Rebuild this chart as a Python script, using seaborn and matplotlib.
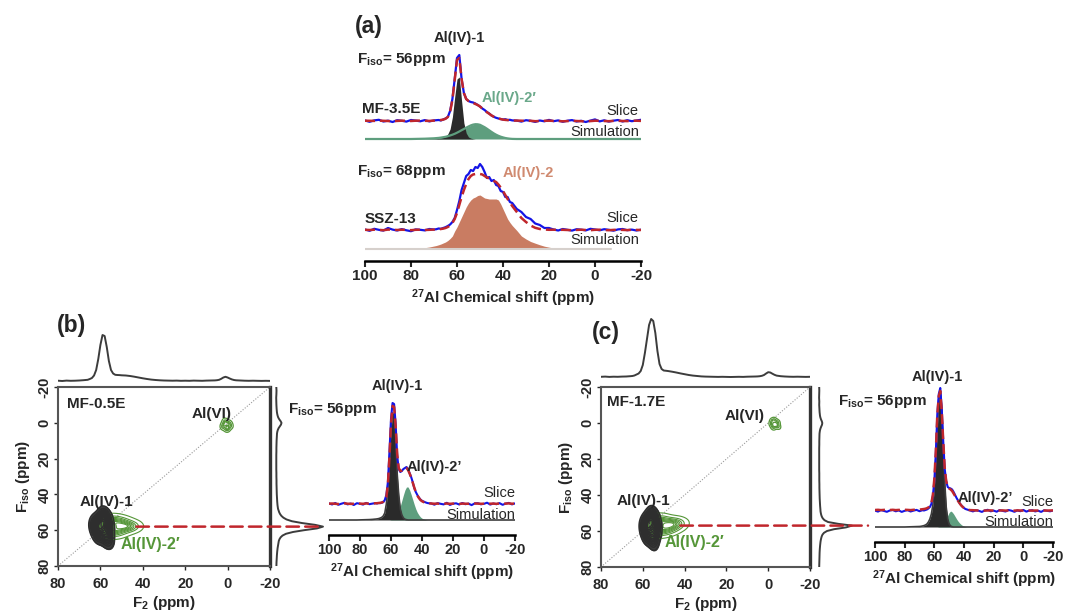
import numpy as np
import matplotlib
matplotlib.use("Agg")
import matplotlib.pyplot as plt
import seaborn as sns
from matplotlib.patches import ConnectionPatch
from matplotlib.colors import ListedColormap

# ------------------------------------------------------------------ data
# chemical-shift grid used by every 1D slice / simulation (ppm)
ppm_slice = [100, 98, 96, 94, 92, 90, 88, 86, 84, 82, 80, 78, 76, 74, 72, 70,
             69, 68, 67, 66, 65, 64, 63, 62, 61, 60, 59, 58, 57, 56, 55, 54, 53, 52, 51, 50,
             49, 48, 47, 46, 45, 44, 43, 42, 41, 40, 39, 38, 37, 36,
             34, 32, 30, 28, 26, 24, 22, 20, 18, 16, 14, 12, 10, 8, 6, 4, 2, 0,
             -2, -4, -6, -8, -10, -12, -14, -16, -18, -20]

# (a) MF-3.5E, F_iso = 56 ppm
mf35_slice = [0.5, -0.8, 0.6, 1.2, -0.5, 0.3, -1.0, 0.8, 0.2, -0.6, 1.0, 0.4, -0.3, 0.9, -0.4, 0.6,
              0.8, 1.0, 0.5, 1.5, 2.5, 4, 10, 22, 42, 63, 66, 42, 28, 22, 20, 19, 18.5, 17.5, 16, 14.5,
              12.5, 11, 9, 7.5, 5.5, 4.2, 3.2, 2.5, 2.0, 1.5, 1.8, 1.0, 1.2, 0.6,
              0.4, -0.6, 0.8, 0.2, -0.9, 0.5, -0.3, 1.1, -0.2, 0.6, -0.8, 0.3, 0.9, -0.5, 0.2, -1.0, 0.4, 1.6,
              -0.4, 0.7, -0.6, 0.3, 1.0, -0.5, 0.8, -0.2, 0.5, 1.2]
mf35_fit = [0.3, 0.2, 0.1, 0.4, 0.2, 0.0, -0.2, 0.1, 0.3, 0.2, 0.0, 0.3, 0.4, 0.2, 0.1, 0.4,
            0.6, 0.8, 1.0, 1.4, 2.2, 4, 9, 21, 41, 61, 63, 42, 28, 22, 20, 19, 18, 17, 16, 14.5,
            12.5, 10.5, 8.8, 7.2, 5.6, 4.3, 3.3, 2.5, 1.9, 1.4, 1.1, 0.9, 0.7, 0.5,
            0.4, 0.3, 0.1, 0.2, -0.2, 0.0, 0.2, 0.3, 0.1, 0.0, -0.3, -0.1, 0.2, 0.0, -0.2, -0.4, -0.1, 0.3,
            0.2, 0.0, -0.2, 0.1, 0.2, 0.0, -0.1, 0.2, 0.3, 0.1]
mf35_sim_iv1 = [0, 0, 0, 0, 0, 0, 0, 0, 0, 0, 0, 0, 0.1, 0.1, 0.2, 0.3,
                0.4, 0.6, 0.9, 1.4, 2.5, 5, 10, 22, 42, 60, 62, 38, 16, 6, 2, 0.8, 0.3, 0, 0, 0,
                0, 0, 0, 0, 0, 0, 0, 0, 0, 0, 0, 0, 0, 0,
                0, 0, 0, 0, 0, 0, 0, 0, 0, 0, 0, 0, 0, 0, 0, 0, 0, 0,
                0, 0, 0, 0, 0, 0, 0, 0, 0, 0]
mf35_sim_iv2 = [0, 0, 0, 0, 0, 0, 0, 0, 0, 0, 0, 0.1, 0.2, 0.3, 0.5, 0.7,
                0.9, 1.1, 1.4, 1.8, 2.2, 2.8, 3.5, 4.3, 5.2, 6.3, 7.5, 8.8, 10, 11.3, 12.5, 13.6, 14.4, 14.8, 14.7, 14.2,
                13, 11.8, 10.3, 8.7, 7.1, 5.6, 4.3, 3.2, 2.3, 1.6, 1.0, 0.6, 0.3, 0.1,
                0, 0, 0, 0, 0, 0, 0, 0, 0, 0, 0, 0, 0, 0, 0, 0, 0, 0,
                0, 0, 0, 0, 0, 0, 0, 0, 0, 0]

# (a) SSZ-13, F_iso = 68 ppm
ssz_slice = [0.5, -0.8, 1.2, 0.2, -0.6, 2.0, 0.4, -0.5, 0.9, -0.3, -1.2, 0.6, 0.2, -0.4, 1.0, 0.5,
             0.8, 1.5, 1.2, 2.0, 2.8, 4, 5.5, 8, 12, 20, 29, 40, 47, 54, 56, 60, 59, 63, 62, 66,
             63, 58, 52, 53, 49, 50, 45, 44, 39, 38, 33, 33, 28, 27,
             21, 18, 13, 11, 6.5, 5, 2, 2, 0.5, -0.5, 1.0, 0.2, -0.6, 0.8, 0.3, -0.4, 1.2, 0.5,
             -0.3, 0.8, 0.2, -0.7, 0.6, 1.0, -0.2, 0.4, -0.5, 0.3]
ssz_fit = [0.2, 0.0, 0.3, 0.1, -0.2, 0.4, 0.2, 0.0, 0.3, 0.1, -0.2, 0.2, 0.3, 0.0, 0.2, 0.4,
           0.5, 0.7, 1.0, 1.4, 2.0, 3.0, 4.5, 7, 11, 17, 25, 33, 40, 46, 51, 54, 55.5, 56, 56, 56,
           55.5, 54, 52.5, 51.5, 50.5, 49, 48, 45.5, 42.5, 39, 35, 31, 27.5, 24,
           18, 12, 8, 4.5, 2.2, 1.0, 0.5, 0.2, 0.3, 0.1, 0.2, 0.0, -0.2, 0.1, 0.3, 0.0, -0.2, 0.2,
           0.3, 0.0, -0.2, 0.1, 0.3, 0.1, -0.1, 0.2, 0.1, 0.0]
ssz_sim_iv2 = [0, 0, 0, 0, 0, 0, 0, 0, 0, 0, 0, 0.3, 0.8, 1.3, 2.0, 3.0,
               3.5, 4.2, 5, 6, 7, 8.5, 10.5, 13, 18, 22, 27, 32, 37, 42, 46, 49, 51, 52, 53.5, 54,
               52.5, 51, 50.5, 50, 50, 50, 50, 49, 45, 40, 35, 30, 26.5, 23.5,
               18.5, 13, 10, 7.5, 5.8, 4.2, 2.8, 1.8, 1.0, 0.3, 0, 0, 0, 0, 0, 0, 0, 0,
               0, 0, 0, 0, 0, 0, 0, 0, 0, 0]
ssz_sim_span = [100, -7]

# (b) MF-0.5E slice at F_iso = 56 ppm
b_slice = [0.6, -0.5, 1.0, -0.8, 0.3, 1.2, -0.4, 0.5, -1.0, 0.8, 0.2, -0.6, 1.1, -0.2, 0.4, 0.9,
           0.5, 1.0, 0.8, 1.2, 1.8, 4, 9, 22, 52, 85, 101, 100, 80, 48, 35, 32, 33, 35, 36, 37,
           35, 31, 27, 22, 16, 12, 9, 6.5, 4.5, 3.2, 2.5, 1.8, 1.2, 0.8,
           0.5, -0.7, 0.9, 0.2, -0.4, 1.2, -0.9, 0.3, 0.7, -0.5, 1.0, -0.2, 0.4, -1.1, 0.6, 0.8, -0.3, 0.2,
           1.3, -0.6, 0.5, -0.2, 0.9, -0.8, 0.4, 1.1, -0.4, 0.6]
b_fit = [0.3, 0.5, 0.2, 0.0, 0.4, 0.6, 0.3, 0.1, 0.3, 0.5, 0.4, 0.2, 0.6, 0.3, 0.5, 0.7,
         0.8, 1.0, 1.2, 1.5, 2.2, 3.8, 7, 20, 47, 80, 98, 97, 78, 50, 36, 33, 33.5, 35, 36, 36,
         34, 30.5, 26.5, 21.5, 16.5, 12, 8.5, 6, 4, 2.8, 2, 1.4, 1, 0.7,
         0.5, 0.3, 0.4, 0.2, 0.3, 0.5, 0.2, 0.4, 0.3, 0.1, 0.4, 0.3, 0.2, 0.3, 0.5, 0.4, 0.2, 0.3,
         0.5, 0.3, 0.4, 0.2, 0.5, 0.3, 0.4, 0.6, 0.3, 0.4]
b_sim_iv1 = [0, 0, 0, 0, 0, 0, 0, 0, 0, 0, 0.1, 0.2, 0.3, 0.4, 0.6, 0.9,
             1.1, 1.4, 1.9, 2.6, 4, 7, 16, 32, 60, 90, 107, 104, 84, 46, 25, 11, 5, 2, 0.8, 0.3,
             0, 0, 0, 0, 0, 0, 0, 0, 0, 0, 0, 0, 0, 0,
             0, 0, 0, 0, 0, 0, 0, 0, 0, 0, 0, 0, 0, 0, 0, 0, 0, 0,
             0, 0, 0, 0, 0, 0, 0, 0, 0, 0]
b_sim_iv2 = [0, 0, 0, 0, 0, 0, 0, 0, 0, 0, 0, 0, 0, 0, 0, 0,
             0, 0, 0, 0, 0, 0, 0, 0, 0, 0.5, 1, 2, 3.5, 6, 9.5, 14, 19.5, 25, 30, 33,
             33, 30, 25.5, 20.5, 15.5, 11, 7.5, 5, 3, 1.8, 1.0, 0.5, 0.2, 0,
             0, 0, 0, 0, 0, 0, 0, 0, 0, 0, 0, 0, 0, 0, 0, 0, 0, 0,
             0, 0, 0, 0, 0, 0, 0, 0, 0, 0]

# (c) MF-1.7E slice at F_iso = 56 ppm
c_slice = [0.4, -0.6, 0.9, 0.1, -0.8, 0.5, 1.0, -0.3, 0.6, -0.9, 0.2, 0.8, -0.5, 0.4, 1.1, -0.2,
           0.3, 0.8, 0.5, 1.0, 1.5, 2.5, 4, 7, 15, 30, 58, 97, 117, 123, 102, 70, 42, 30, 24, 23,
           22.5, 21.5, 19, 16, 13, 10.5, 8, 6, 4.5, 3, 2, 1.5, 1, 0.6,
           -0.4, 0.7, 0.2, -0.9, 0.5, 1.2, -0.3, 0.4, -0.7, 0.9, 0.1, -0.5, 1.0, 0.3, -0.8, 0.6, -0.2, 1.1,
           -0.6, 0.4, 0.8, -0.4, 0.3, -0.9, 0.7, 0.2, -0.3, 0.5]
c_fit = [1.0, 1.2, 0.9, 1.1, 1.3, 1.0, 1.2, 0.9, 1.1, 1.0, 1.2, 1.1, 0.9, 1.2, 1.3, 1.4,
         1.6, 1.8, 2.0, 2.3, 2.8, 3.6, 5, 8, 16, 32, 60, 96, 115, 120, 100, 70, 43, 30, 24, 22.5,
         21.5, 20, 17.5, 15, 12.5, 10, 7.8, 5.8, 4.2, 3, 2.2, 1.6, 1.2, 0.9,
         0.8, 0.6, 0.5, 0.6, 0.4, 0.5, 0.6, 0.4, 0.3, 0.5, 0.6, 0.4, 0.5, 0.3, 0.4, 0.6, 0.5, 0.4,
         0.6, 0.5, 0.3, 0.5, 0.4, 0.6, 0.5, 0.4, 0.5, 0.6]
c_sim_iv1 = [0, 0, 0, 0, 0, 0, 0, 0, 0, 0, 0, 0.1, 0.2, 0.3, 0.4, 0.5,
             0.7, 1.0, 1.4, 2.0, 3.0, 5, 8, 13, 22, 40, 68, 100, 128, 137, 118, 82, 45, 20, 8, 3,
             1, 0.3, 0, 0, 0, 0, 0, 0, 0, 0, 0, 0, 0, 0,
             0, 0, 0, 0, 0, 0, 0, 0, 0, 0, 0, 0, 0, 0, 0, 0, 0, 0,
             0, 0, 0, 0, 0, 0, 0, 0, 0, 0]
c_sim_iv2 = [0, 0, 0, 0, 0, 0, 0, 0, 0, 0, 0, 0, 0, 0, 0, 0,
             0, 0, 0, 0, 0, 0, 0, 0, 0, 0, 0, 0, 0.5, 1.2, 2.2, 3.8, 6, 8.5, 11.5, 14.5,
             16, 15, 13, 10.5, 8, 5.8, 4, 2.6, 1.5, 0.8, 0.3, 0, 0, 0,
             0, 0, 0, 0, 0, 0, 0, 0, 0, 0, 0, 0, 0, 0, 0, 0, 0, 0,
             0, 0, 0, 0, 0, 0, 0, 0, 0, 0]

# F2 projections (top of 2D maps)
ppm_f2 = [80, 78, 76, 74, 72, 70, 68, 66,
          65, 64, 63, 62, 61, 60, 59, 58, 57, 56, 55, 54, 53, 52, 51, 50,
          48, 46, 44, 42, 40, 38, 36, 34, 32, 30, 28, 26, 24, 22, 20, 18, 16, 14, 12, 10, 8, 6,
          5, 4, 3, 2, 1, 0, -1, -2, -3,
          -4, -6, -8, -10, -12, -14, -16, -18, -20]
b_proj_f2 = [0.3, 0.0, 0.4, 0.2, 0.3, 0.5, 0.8, 1.2,
             2, 3, 5.5, 11, 22, 36, 46, 45, 34, 20, 11, 7.5, 6.2, 6, 5.9, 5.7,
             5.5, 5, 4.3, 3.5, 2.7, 2, 1.4, 1, 0.7, 0.5, 0.4, 0.3, 0.4, 0.2, 0.3, 0.2, 0.4, 0.3, 0.2, 0.4, 0.5, 0.6,
             0.8, 1.2, 2.2, 3.5, 4.2, 3.5, 2.5, 1.6, 1.0,
             0.7, 0.5, 0.3, 0.2, 0.3, 0.2, 0.1, 0.2, 0.1]
c_proj_f2 = [0.2, 0.4, 0.1, 0.3, 0.2, 0.4, 0.5, 0.8,
             1.0, 1.5, 2.5, 3.5, 6, 12, 24, 38, 52, 58, 56, 44, 26, 13, 8, 6.5,
             6, 5.3, 4.5, 3.6, 2.8, 2, 1.4, 1, 0.6, 0.4, 0.3, 0.2, 0.1, 0.2, 0.1, 0.0, 0.1, 0.2, 0.1, 0.3, 0.4, 0.5,
             0.6, 0.8, 1.2, 2, 3.5, 4.8, 4.5, 3.3, 2.2,
             1.4, 0.8, 0.5, 0.3, 0.2, 0.3, 0.2, 0.1, 0.2]

# F_iso projections (right of 2D maps)
ppm_fiso = [-20, -18, -16, -14, -12, -10, -8, -6,
            -5, -4, -3, -2, -1, 0, 1, 2, 3, 4, 5,
            6, 8, 10, 12, 14, 16, 18, 20, 22, 24, 26, 28, 30, 32, 34, 36, 38, 40, 42, 44, 46, 48,
            49, 50, 51, 52, 53, 54, 55, 56, 57, 58, 59, 60, 61, 62, 63, 64, 65, 66,
            68, 70, 72, 74, 76, 78, 80]
b_proj_fiso = [0.3, 0.5, 0.4, 0.2, 0.3, 0.4, 0.6, 0.9,
               1.2, 1.6, 2.2, 3.2, 4.5, 5.5, 5, 3.8, 2.6, 1.8, 1.3,
               1.0, 0.8, 0.6, 0.5, 0.4, 0.4, 0.3, 0.3, 0.3, 0.3, 0.3, 0.4, 0.4, 0.5, 0.5, 0.6, 0.7, 0.8, 1.0, 1.2, 1.5, 2.0,
               2.6, 3.2, 4.1, 5.4, 7.4, 10.5, 16, 26, 39, 47, 41, 28, 17, 10, 6.5, 4.6, 3.5, 2.8,
               2.2, 1.6, 1.2, 0.9, 0.7, 0.5, 0.4]
c_proj_fiso = [0.2, 0.3, 0.2, 0.1, 0.3, 0.2, 0.4, 0.6,
               0.8, 1.0, 1.4, 2.0, 2.8, 3.3, 3.0, 2.2, 1.5, 1.0, 0.7,
               0.5, 0.4, 0.3, 0.3, 0.2, 0.2, 0.2, 0.2, 0.2, 0.2, 0.2, 0.3, 0.3, 0.3, 0.4, 0.4, 0.5, 0.6, 0.7, 0.9, 1.1, 1.4,
               1.5, 1.8, 2.2, 2.8, 3.8, 5.5, 9, 19, 33, 27, 15, 8, 5, 3.5, 2.7, 2.2, 1.8, 1.5,
               1.1, 0.8, 0.6, 0.5, 0.4, 0.3, 0.2]

# 2D MQMAS peak positions (F2, F_iso), sampled from the contour regions
b_iv1_f2 = [62.0, 60.5, 59.5, 58.0, 56.5, 60.5, 59.0, 57.5, 62.0, 56.5, 58.5, 57.5, 56.0, 63.0, 60.0, 56.0, 61.0, 58.0]
b_iv1_fiso = [55.5, 58.0, 57.0, 59.5, 56.5, 61.5, 54.0, 62.5, 60.0, 54.5, 51.5, 64.5, 60.5, 57.5, 55.5, 66.0, 63.0, 52.5]
b_iv2_f2 = [58, 56, 54, 52, 50, 48, 46, 57, 55, 53, 51, 49, 47, 45, 56, 53, 50, 55, 52]
b_iv2_fiso = [57, 56, 55.5, 57, 56, 57.5, 57, 60, 59.5, 60, 59, 59.5, 58.5, 58, 54, 54, 55, 62, 61.5]
b_vi_f2 = [1.8, 0.0, -0.8, 1.2, 0.4, 2.2, -1.3, 0.6]
b_vi_fiso = [1.0, 2.8, 0.2, -1.0, 3.6, 2.4, 1.8, 0.4]

c_iv1_f2 = [58.5, 57.0, 56.0, 54.5, 53.5, 57.5, 56.5, 55.0, 59.0, 54.0, 56.0, 55.5, 53.0, 59.5, 57.5, 54.5, 58.0, 55.0]
c_iv1_fiso = [55.5, 57.5, 56.5, 59.0, 56.0, 61.0, 53.5, 62.0, 59.5, 54.0, 51.0, 64.5, 60.0, 57.0, 54.5, 66.0, 63.0, 52.0]
c_iv2_f2 = [55, 53, 51, 49, 47, 45, 43, 54, 52, 50, 48, 46, 44, 53, 50, 47, 52]
c_iv2_fiso = [55.5, 55, 54.5, 55, 55.5, 55, 55.5, 58.5, 58, 58.5, 57.5, 57, 57.5, 61, 60.5, 59.5, 53]
c_vi_f2 = [-2.0, -3.6, -4.8, -2.4, -3.0, -4.5, -1.6, -3.2]
c_vi_fiso = [-1.0, 0.8, 2.0, 2.4, -1.6, -0.4, 0.6, 1.2]

map_range = [80, -20]
slice_ticks = [100, 80, 60, 40, 20, 0, -20]
map_ticks = [80, 60, 40, 20, 0, -20]
b_fiso_cut, c_fiso_cut = 58, 57

# ------------------------------------------------------------------ style
sns.set_style("white")
plt.rcParams["font.family"] = ["Liberation Sans", "DejaVu Sans"]
plt.rcParams["font.weight"] = "bold"
plt.rcParams["axes.labelweight"] = "bold"
plt.rcParams["mathtext.fontset"] = "custom"
plt.rcParams["mathtext.rm"] = "Liberation Sans"
plt.rcParams["mathtext.bf"] = "Liberation Sans:bold"
plt.rcParams["mathtext.it"] = "Liberation Sans:italic"
plt.rcParams["mathtext.default"] = "bf"

BLUE = "#1414e6"
RED = "#c0262c"
BLACK_FILL = "#2a2a2a"
TEAL = "#5e9e7e"
ORANGE = "#c97c62"
MAPGREEN = "#559638"
LINEGRAY = "#3c3c3c"

W, H = 1075, 615
fig = plt.figure(figsize=(W / 100, H / 100), dpi=100)


def add_ax(L, T, R, B):
    return fig.add_axes([L / W, 1 - B / H, (R - L) / W, (B - T) / H])


def ftext(x, y, s, **kw):
    kw.setdefault("va", "center")
    kw.setdefault("fontsize", 10.5)
    fig.text(x / W, 1 - y / H, s, **kw)


def line(ax, x, y, off, color, lw, ls="-", orient="x"):
    y = np.asarray(y, float) + off
    if orient == "x":
        sns.lineplot(x=x, y=y, ax=ax, color=color, linewidth=lw, linestyle=ls,
                     estimator=None, sort=False)
    else:
        sns.lineplot(x=y, y=x, ax=ax, color=color, linewidth=lw, linestyle=ls,
                     estimator=None, sort=False, orient="y")


def fill(ax, x, y, off, color):
    y = np.asarray(y, float)
    ax.fill_between(x, off, off + y, where=y > 0, color=color, linewidth=0, interpolate=True)


def slice_axis(ax, ymax, tick_fs, label_fs):
    ax.set_xlim(100, -20)
    ax.set_ylim(0, ymax)
    for s in ["left", "right", "top"]:
        ax.spines[s].set_visible(False)
    ax.spines["bottom"].set_linewidth(1.8)
    ax.spines["bottom"].set_color("black")
    ax.set_xticks(slice_ticks)
    ax.set_xticklabels([str(t) for t in slice_ticks])
    ax.set_yticks([])
    ax.tick_params(axis="x", direction="out", length=4, width=1.5, labelsize=tick_fs, pad=2,
                   bottom=True)
    ax.set_ylabel("")
    ax.set_xlabel(r"$^{27}$Al Chemical shift (ppm)", fontsize=label_fs, labelpad=3)
    ax.patch.set_alpha(0)


# ------------------------------------------------------------------ panel (a)
axa = add_ax(365, 40, 641, 261)
# MF-3.5E
line(axa, ppm_slice, mf35_sim_iv2, 122, TEAL, 1.6)
fill(axa, ppm_slice, mf35_sim_iv2, 122, TEAL)
fill(axa, ppm_slice, mf35_sim_iv1, 122, BLACK_FILL)
line(axa, ppm_slice, mf35_slice, 140, BLUE, 1.6)
line(axa, ppm_slice, mf35_fit, 140, RED, 1.8, ls=(0, (4, 2)))
# SSZ-13
axa.plot(ssz_sim_span, [12, 12], color="#d6d0cc", lw=1.5)
fill(axa, ppm_slice, ssz_sim_iv2, 12, ORANGE)
line(axa, ppm_slice, ssz_slice, 31, BLUE, 1.6)
line(axa, ppm_slice, ssz_fit, 31, RED, 1.8, ls=(0, (4, 2)))
slice_axis(axa, 221, 11, 11)

ftext(355, 26, "(a)", fontsize=16.5, ha="left")
ftext(459, 38, "Al(IV)-1", ha="center")
ftext(357, 59, r"F$_{iso}$= 56ppm", ha="left", fontsize=11)
ftext(362, 109, "MF-3.5E", ha="left", fontsize=11)
ftext(482, 98, "Al(IV)-2\u2032", ha="left", color="#6aa88a")
ftext(638, 111, "Slice", ha="right", fontweight="normal")
ftext(639, 132, "Simulation", ha="right", fontweight="normal")
ftext(357, 172, r"F$_{iso}$= 68ppm", ha="left", fontsize=11)
ftext(503, 173, "Al(IV)-2", ha="left", color="#d08a70")
ftext(365, 219, "SSZ-13", ha="left", fontsize=11)
ftext(638, 218, "Slice", ha="right", fontweight="normal")
ftext(639, 240, "Simulation", ha="right", fontweight="normal")


# ------------------------------------------------------------------ 2D maps
def map_panel(box, top_box, right_box, top_ylim, right_xlim,
              proj_f2, proj_fiso, iv1, iv2, vi, cut, red_start, red_end):
    ax = add_ax(*box)
    ax.plot(map_range, map_range, color="#9a9a9a", lw=0.8, ls=(0, (1, 1.5)))
    sns.kdeplot(x=iv2[0], y=iv2[1], ax=ax, levels=9, thresh=0.03, color=MAPGREEN,
                linewidths=0.8, bw_adjust=1.25)
    n0 = len(ax.collections)
    sns.kdeplot(x=iv1[0], y=iv1[1], ax=ax, fill=True, levels=[0.05, 1.0],
                cmap=ListedColormap([LINEGRAY]), bw_adjust=1.2, antialiased=False)
    for coll in ax.collections[n0:]:
        coll.set_edgecolor(LINEGRAY)
        coll.set_linewidth(0.8)
    sns.kdeplot(x=iv1[0], y=iv1[1], ax=ax, levels=14, thresh=0.05, color="#2e2e2e",
                linewidths=1.1, bw_adjust=1.2)
    sns.kdeplot(x=vi[0], y=vi[1], ax=ax, levels=5, thresh=0.08, color=MAPGREEN,
                linewidths=0.9, bw_adjust=1.0)
    ax.set_xlim(*map_range)
    ax.set_ylim(*map_range)
    ax.set_xticks(map_ticks)
    ax.set_yticks(map_ticks)
    ax.set_xticklabels([str(t) for t in map_ticks])
    ax.set_yticklabels([str(t) for t in map_ticks], rotation=90, va="center")
    ax.tick_params(labelsize=10.5, length=3, width=1, left=True, bottom=True)
    ax.tick_params(axis="x", pad=5)
    ax.tick_params(axis="y", pad=1.5)
    for s in ["left", "top", "bottom"]:
        ax.spines[s].set_color("#555555")
        ax.spines[s].set_linewidth(1.5)
    ax.spines["right"].set_color("#333333")
    ax.spines["right"].set_linewidth(2.4)
    ax.set_xlabel(r"F$_{2}$ (ppm)", fontsize=11, labelpad=2)
    ax.set_ylabel(r"F$_{iso}$ (ppm)", fontsize=11, labelpad=4)

    axt = add_ax(*top_box)
    line(axt, ppm_f2, proj_f2, 0, LINEGRAY, 1.4)
    axt.set_xlim(*map_range)
    axt.set_ylim(*top_ylim)
    axt.axis("off")

    axr = add_ax(*right_box)
    line(axr, ppm_fiso, proj_fiso, 0, LINEGRAY, 1.4, orient="y")
    axr.set_xlim(*right_xlim)
    axr.set_ylim(*map_range)
    axr.axis("off")

    con = ConnectionPatch(xyA=(red_start, cut), coordsA=ax.transData,
                          xyB=(red_end, cut), coordsB=axr.transData,
                          color=RED, lw=1.8, ls=(0, (5, 2.5)))
    fig.add_artist(con)
    return ax


map_panel((58, 387, 270, 566), (58, 330, 270, 382), (275, 387, 335, 566), (-1, 51), (-1, 59),
          b_proj_f2, b_proj_fiso, (b_iv1_f2, b_iv1_fiso), (b_iv2_f2, b_iv2_fiso),
          (b_vi_f2, b_vi_fiso), b_fiso_cut, 43, 47)
map_panel((601, 387, 810, 567), (601, 318, 810, 378), (818, 387, 878, 567), (-1, 59), (-1, 59),
          c_proj_f2, c_proj_fiso, (c_iv1_f2, c_iv1_fiso), (c_iv2_f2, c_iv2_fiso),
          (c_vi_f2, c_vi_fiso), c_fiso_cut, 42, 49)

ftext(57, 326, "(b)", fontsize=16.5, ha="left")
ftext(67, 404, "MF-0.5E", ha="left", fontsize=11)
ftext(212, 414, "Al(VI)", ha="center", fontsize=11)
ftext(106, 502, "Al(IV)-1", ha="center", fontsize=11)
ftext(150, 545, "Al(IV)-2\u2032", ha="center", fontsize=11.5, color=MAPGREEN)

ftext(592, 332, "(c)", fontsize=16.5, ha="left")
ftext(607, 402, "MF-1.7E", ha="left", fontsize=11)
ftext(745, 416, "Al(VI)", ha="center", fontsize=11)
ftext(643, 501, "Al(IV)-1", ha="center", fontsize=11)
ftext(694, 543, "Al(IV)-2\u2032", ha="center", fontsize=11.5, color=MAPGREEN)

# ------------------------------------------------------------------ slices (b), (c)
axb = add_ax(329, 395, 515, 535)
line(axb, ppm_slice, b_sim_iv1, 15, LINEGRAY, 1.2)
fill(axb, ppm_slice, b_sim_iv2, 15, TEAL)
fill(axb, ppm_slice, b_sim_iv1, 15, BLACK_FILL)
line(axb, ppm_slice, b_slice, 31, BLUE, 1.5)
line(axb, ppm_slice, b_fit, 31, RED, 1.8, ls=(0, (4, 2)))
slice_axis(axb, 140, 10.5, 11)

axc = add_ax(875, 382, 1053, 542)
line(axc, ppm_slice, c_sim_iv1, 15, LINEGRAY, 1.2)
fill(axc, ppm_slice, c_sim_iv2, 15, TEAL)
fill(axc, ppm_slice, c_sim_iv1, 15, BLACK_FILL)
line(axc, ppm_slice, c_slice, 31, BLUE, 1.5)
line(axc, ppm_slice, c_fit, 31, RED, 1.8, ls=(0, (4, 2)))
slice_axis(axc, 160, 10.5, 11)

ftext(397, 386, "Al(IV)-1", ha="center")
ftext(288, 409, r"F$_{iso}$= 56ppm", ha="left", fontsize=11)
ftext(434, 467, "Al(IV)-2\u2019", ha="center")
ftext(515, 493, "Slice", ha="right", fontweight="normal")
ftext(515, 515, "Simulation", ha="right", fontweight="normal")

ftext(937, 377, "Al(IV)-1", ha="center")
ftext(838, 401, r"F$_{iso}$= 56ppm", ha="left", fontsize=11)
ftext(985, 498, "Al(IV)-2\u2019", ha="center")
ftext(1053, 502, "Slice", ha="right", fontweight="normal")
ftext(1053, 522, "Simulation", ha="right", fontweight="normal")

fig.savefig("out.png", dpi=100, facecolor="white")
